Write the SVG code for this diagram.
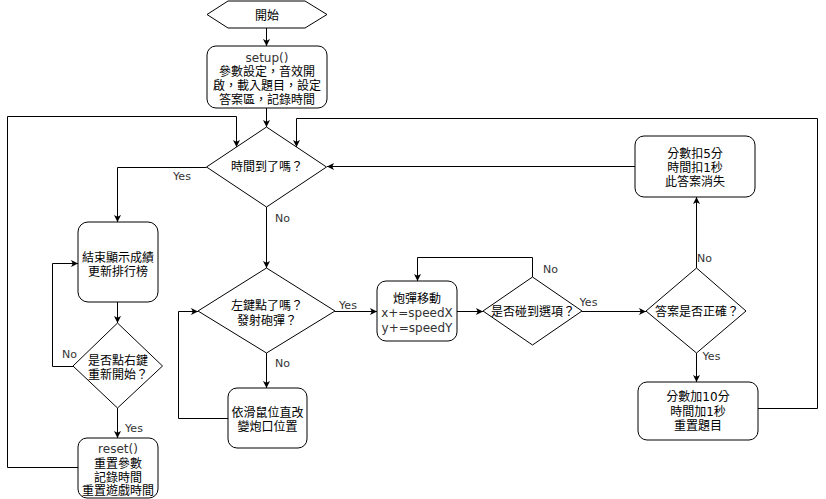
<svg xmlns="http://www.w3.org/2000/svg" width="826" height="499" viewBox="0 0 826 499">
  <defs>
    <marker id="arrow" viewBox="0 0 8 8" refX="8" refY="4" markerWidth="7" markerHeight="7" markerUnits="userSpaceOnUse" orient="auto">
      <path d="M0,0 L8,4 L0,8 L2,4 Z" fill="#000"/>
    </marker>
    <style>
      .shape { fill: #fff; stroke: #000; stroke-width: 1; }
      .edge { fill: none; stroke: #000; stroke-width: 1; marker-end: url(#arrow); }
      text { font-family: "DejaVu Sans", "Noto Sans CJK TC", sans-serif; font-size: 12px; fill: #000; text-anchor: middle; }
      .lat { fill: #333; }
      .lbl { font-size: 11px; fill: #333; }
    </style>
  </defs>
  <rect width="826" height="499" fill="#fff"/>

  <!-- connectors -->
  <g id="connectors">
    <path class="edge" d="M266.5,28 V46"/>
    <path class="edge" d="M266.5,108 V127"/>
    <path class="edge" d="M206.5,167.5 H117.5 V222"/>
    <path class="edge" d="M266.5,207 V268"/>
    <path class="edge" d="M117.5,302 V323"/>
    <path class="edge" d="M73,366.5 H52.5 V263.5 H78"/>
    <path class="edge" d="M117.5,408 V438"/>
    <path class="edge" d="M78,467.5 H7.5 V116.5 H236.5 V147"/>
    <path class="edge" d="M266.5,353 V388"/>
    <path class="edge" d="M228,418.5 H178.5 V311.5 H198"/>
    <path class="edge" d="M335,311.5 H377"/>
    <path class="edge" d="M457,311.5 H483"/>
    <path class="edge" d="M532.5,277 V257.5 H417.5 V281"/>
    <path class="edge" d="M582,311.5 H646"/>
    <path class="edge" d="M696.5,268 V197"/>
    <path class="edge" d="M696.5,353 V382"/>
    <path class="edge" d="M758,408.5 H817.5 V118.5 H296.5 V147"/>
    <path class="edge" d="M635,166.5 H327"/>
    <text class="lbl" x="182" y="180">Yes</text>
    <text class="lbl" x="282.5" y="221.5">No</text>
    <text class="lbl" x="69.5" y="358">No</text>
    <text class="lbl" x="134" y="431.5">Yes</text>
    <text class="lbl" x="348" y="308.5">Yes</text>
    <text class="lbl" x="282.5" y="366.5">No</text>
    <text class="lbl" x="550.5" y="273">No</text>
    <text class="lbl" x="588.5" y="306">Yes</text>
    <text class="lbl" x="704.5" y="261.5">No</text>
    <text class="lbl" x="711.5" y="360">Yes</text>
  </g>

  <!-- start -->
  <g id="start">
    <path class="shape" d="M207,14.5 L228,1 H305 L327,14.5 L305,28 H228 Z"/>
    <text x="267" y="19.5">開始</text>
  </g>

  <g id="setup">
    <rect class="shape" x="207" y="46" width="120" height="62" rx="9"/>
    <text class="lat" x="267" y="62">setup()</text>
    <text x="267" y="76">參數設定，音效開</text>
    <text x="267" y="90">啟，載入題目，設定</text>
    <text x="267" y="104">答案區，記錄時間</text>
  </g>

  <g id="time-up">
    <path class="shape" d="M266.5,127 L326.5,167 L266.5,207 L206.5,167 Z"/>
    <text x="267" y="170.5">時間到了嗎？</text>
  </g>

  <g id="show-score">
    <rect class="shape" x="78" y="222" width="80" height="80" rx="10"/>
    <text x="118" y="262">結束顯示成績</text>
    <text x="118" y="276">更新排行榜</text>
  </g>

  <g id="restart">
    <path class="shape" d="M117.5,323 L162.5,366 L117.5,408 L73,366 Z"/>
    <text x="118" y="364.5">是否點右鍵</text>
    <text x="118" y="378.5">重新開始？</text>
  </g>

  <g id="reset">
    <rect class="shape" x="78" y="438" width="80" height="60" rx="9"/>
    <text class="lat" x="118" y="452.5">reset()</text>
    <text x="118" y="467.5">重置參數</text>
    <text x="118" y="481.5">記錄時間</text>
    <text x="118" y="494.5">重置遊戲時間</text>
  </g>

  <g id="left-click">
    <path class="shape" d="M266.5,268 L335,311 L266.5,353 L198,311 Z"/>
    <text x="267" y="309.5">左鍵點了嗎？</text>
    <text x="267" y="324.5">發射砲彈？</text>
  </g>

  <g id="aim">
    <rect class="shape" x="228" y="388" width="79" height="60" rx="9"/>
    <text x="267.5" y="416.5">依滑鼠位直改</text>
    <text x="267.5" y="430.5">變炮口位置</text>
  </g>

  <g id="move">
    <rect class="shape" x="377" y="281" width="80" height="60" rx="9"/>
    <text x="417" y="302.5">炮彈移動</text>
    <text class="lat" x="417" y="317">x+=speedX</text>
    <text class="lat" x="417" y="331.5">y+=speedY</text>
  </g>

  <g id="hit">
    <path class="shape" d="M532.5,277 L582,311 L532.5,345 L483,311 Z"/>
    <text x="533" y="315.5">是否碰到選項？</text>
  </g>

  <g id="correct">
    <path class="shape" d="M696.5,268 L746,311 L696.5,353 L646,311 Z"/>
    <text x="697" y="315.5">答案是否正確？</text>
  </g>

  <g id="penalty">
    <rect class="shape" x="635" y="136" width="120" height="61" rx="9"/>
    <text x="695" y="157.5">分數扣5分</text>
    <text x="695" y="171.5">時間扣1秒</text>
    <text x="695" y="185.5">此答案消失</text>
  </g>

  <g id="reward">
    <rect class="shape" x="638" y="382" width="120" height="58" rx="9"/>
    <text x="698" y="401">分數加10分</text>
    <text x="698" y="415.5">時間加1秒</text>
    <text x="698" y="430">重置題目</text>
  </g>
</svg>
